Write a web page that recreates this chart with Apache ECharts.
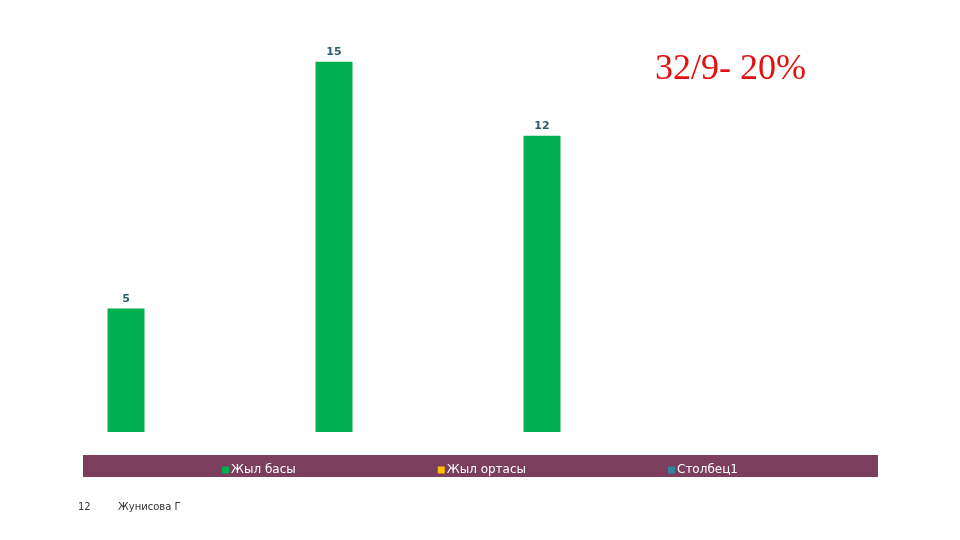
<!DOCTYPE html>
<html>
<head>
<meta charset="utf-8">
<script src="https://cdn.jsdelivr.net/npm/echarts@6/dist/echarts.min.js"></script>
<style>
  html, body { margin: 0; padding: 0; background: #fff; }
  #chart { width: 960px; height: 540px; }
</style>
</head>
<body>
<div id="chart"></div>
<script>
  // данные
  var categories = ['1', '2', '3', '4'];
  var zhylBasy = [5, 15, 12, null];
  var zhylOrtasy = [null, null, null, null];
  var stolbets1 = [null, null, null, null];

  var chart = echarts.init(document.getElementById('chart'));

  var labelStyle = {
    show: true,
    position: 'top',
    distance: 4,
    color: '#2f5d6b',
    fontFamily: 'DejaVu Sans',
    fontSize: 11,
    fontWeight: 'bold'
  };

  var option = {
    animation: false,
    backgroundColor: '#fff',
    grid: { left: 59, width: 832, top: 37, bottom: 108 },
    xAxis: {
      type: 'category',
      data: categories,
      show: false
    },
    yAxis: { type: 'value', min: 0, max: 16, show: false },
    legend: {
      left: 'center',
      top: 459,
      itemWidth: 7,
      itemHeight: 7,
      itemGap: 142,
      icon: 'rect',
      textStyle: { color: '#fff', fontFamily: 'DejaVu Sans', fontSize: 12, padding: [0, 0, 0, -3] }
    },
    graphic: [
      { type: 'rect', z: -1, shape: { x: 83, y: 455, width: 795, height: 22 }, style: { fill: '#7b3f5d' } },
      { type: 'text', left: 655, top: 52, style: { text: '32/9- 20%', fill: '#e31010', font: '36px "Liberation Serif"' } },
      { type: 'text', left: 78, top: 502, style: { text: '12', fill: '#333', font: '10px "DejaVu Sans"' } },
      { type: 'text', left: 118, top: 502, style: { text: 'Жунисова Г', fill: '#333', font: '10px "DejaVu Sans"' } }
    ],
    series: [
      { name: 'Жыл басы', type: 'bar', data: zhylBasy, barWidth: 37, barGap: '0%', itemStyle: { color: '#00b050' }, label: labelStyle },
      { name: 'Жыл ортасы', type: 'bar', data: zhylOrtasy, barWidth: 37, barGap: '0%', itemStyle: { color: '#ffc000' }, label: labelStyle },
      { name: 'Столбец1', type: 'bar', data: stolbets1, barWidth: 37, barGap: '0%', itemStyle: { color: '#31849b' }, label: labelStyle }
    ]
  };

  chart.setOption(option);
</script>
</body>
</html>
